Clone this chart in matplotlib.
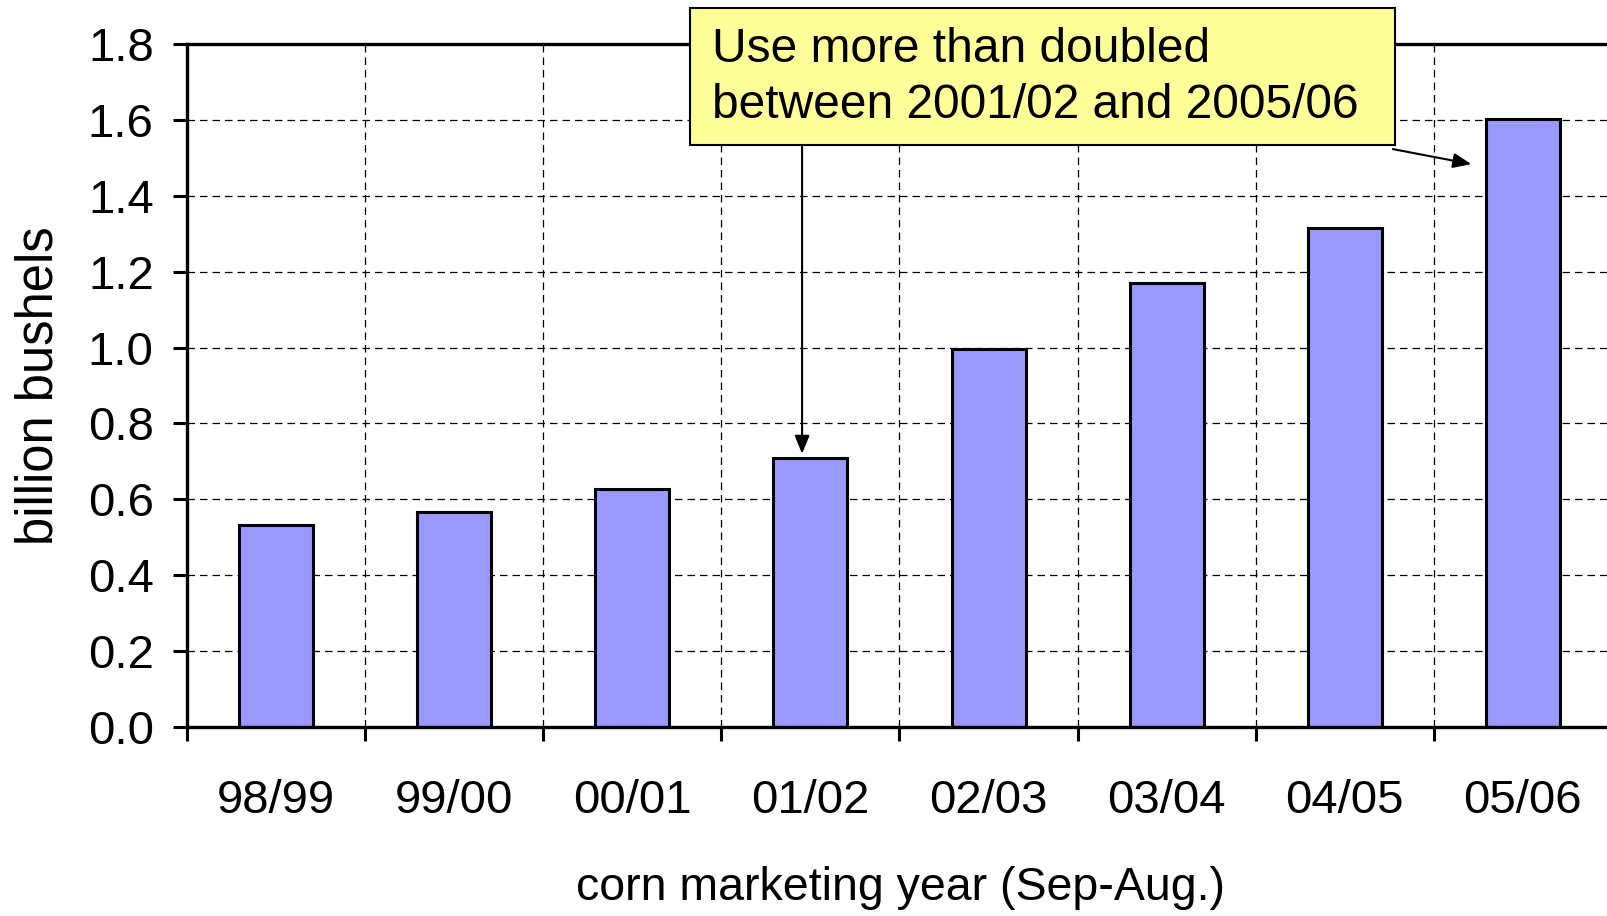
import numpy as np
import matplotlib
matplotlib.use("Agg")
import matplotlib.pyplot as plt
from matplotlib.patches import Rectangle
from matplotlib.ticker import MultipleLocator

# corn used for ethanol, billion bushels
years = ["98/99", "99/00", "00/01", "01/02", "02/03", "03/04", "04/05", "05/06"]
use = [0.533, 0.566, 0.628, 0.708, 0.997, 1.170, 1.316, 1.603]
yticks = [0.0, 0.2, 0.4, 0.6, 0.8, 1.0, 1.2, 1.4, 1.6, 1.8]
note = "Use more than doubled\nbetween 2001/02 and 2005/06"

plt.rcParams['font.family'] = ['Liberation Sans', 'DejaVu Sans']

W, H = 1608, 916
fig = plt.figure(figsize=(W/100.0, H/100.0), dpi=100)
# right edge of the plot area runs slightly past the picture
ax = fig.add_axes([187.0/W, 1-727.0/H, (1612.0-187)/W, (727.0-44)/H])

x = np.arange(len(years))
ax.bar(x, use, width=0.415, color='#9999FF', edgecolor='black', linewidth=2.2, zorder=3)

ax.set_xlim(-0.5, len(years)-0.5)
ax.set_ylim(0, 1.8)
ax.set_yticks(yticks)
ax.set_yticklabels(["%.1f" % v for v in yticks], fontsize=34)
ax.set_xticks(x)
ax.set_xticklabels(years, fontsize=34)
ax.xaxis.set_minor_locator(MultipleLocator(1.0, offset=0.5))

ax.tick_params(axis='x', which='major', length=0, pad=37.5)
ax.tick_params(axis='x', which='minor', length=10, width=2.2, direction='out')
ax.tick_params(axis='y', which='major', length=10, width=2.2, direction='out', pad=14)

ax.grid(True, axis='y', which='major', linestyle=(0, (6, 4)), color='black', linewidth=0.9, zorder=0)
ax.grid(True, axis='x', which='minor', linestyle=(0, (6, 4)), color='black', linewidth=0.9, zorder=0)
ax.set_axisbelow(True)

for s in ax.spines.values():
    s.set_linewidth(2.4)
    s.set_zorder(4)

fig.text(39.0/W, 1-386.0/H, "billion bushels", rotation=90, ha='center', va='center', fontsize=36.5)
fig.text(901.0/W, 1-888.0/H, "corn marketing year (Sep-Aug.)",
         ha='center', va='center', fontsize=33.5)

# callout box
box = Rectangle((690.0/W, 1-145.0/H), 705.0/W, 137.0/H, transform=fig.transFigure,
                facecolor='#FFFF99', edgecolor='black', linewidth=1.5, zorder=10)
fig.patches.append(box)
fig.text(712.0/W, 1-77.5/H, note, ha='left', va='center', fontsize=34.5, linespacing=1.32, zorder=11)

arrow = dict(arrowstyle='-|>,head_length=1.1,head_width=0.45', color='black', lw=1.5,
             shrinkA=0, shrinkB=0)
ax.annotate("", xy=(2.953, use[3]+0.012), xytext=(2.953, 1.5435),
            textcoords='data', arrowprops=arrow, annotation_clip=False, zorder=9)
ax.annotate("", xy=(6.71, 1.4835), xytext=(6.27, 1.523),
            textcoords='data', arrowprops=arrow, annotation_clip=False, zorder=9)

fig.savefig("out.png", dpi=100)
